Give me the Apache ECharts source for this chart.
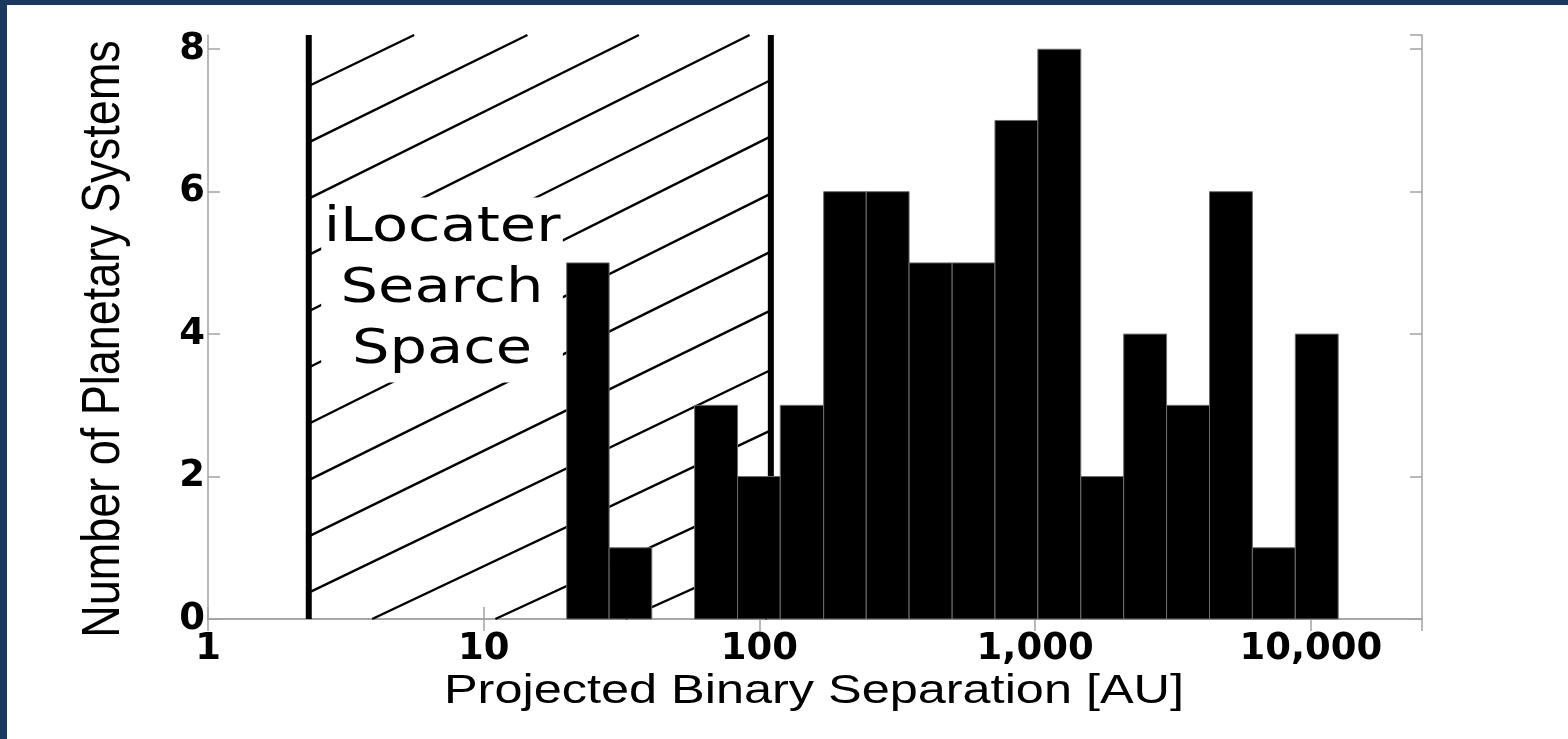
<!DOCTYPE html>
<html>
<head>
<meta charset="utf-8">
<script src="https://cdn.jsdelivr.net/npm/echarts@6/dist/echarts.min.js"></script>
<style>
  html, body { margin: 0; padding: 0; background: #ffffff; overflow: hidden; }
  #chart { position: absolute; left: 0; top: 0; width: 1568px; height: 739px; }
  #bl { position: absolute; left: 0; top: 0; width: 7px; height: 739px; background: #1b385e; }
  #bt { position: absolute; left: 0; top: 0; width: 1568px; height: 5px; background: #1b385e; }
</style>
</head>
<body>
<div id="chart"></div>
<div id="bl"></div>
<div id="bt"></div>
<script>
// ---- data ----
const binEdges = [20, 28.5, 40.7, 58.2, 83.3, 119, 171, 244, 349, 500, 715, 1023, 1464, 2095, 2997, 4289, 6137, 8781, 12565];
const counts = [5, 1, 0, 3, 2, 3, 6, 6, 5, 5, 7, 8, 2, 4, 3, 6, 1, 4];
const searchSpace = [2.32, 110];
const searchLabel = ['iLocater', 'Search', 'Space'];
const xTickValues = [1, 10, 100, 1000, 10000];
const xTickLabels = ['1', '10', '100', '1,000', '10,000'];
const yTickValues = [0, 2, 4, 6, 8];
const yTickLabels = ['0', '2', '4', '6', '8'];
const xTitle = 'Projected Binary Separation [AU]';
const yTitle = 'Number of Planetary Systems';

// ---- build ----
const barData = counts.map((c, i) => [binEdges[i], binEdges[i + 1], c]);
const X_MIN = 1, X_MAX = 25300, Y_MIN = 0, Y_MAX = 8.2;
const STRETCH = 1.23;
const axisGray = '#a3a3a3';

function xLabel(v) {
  for (let i = 0; i < xTickValues.length; i++) {
    if (Math.abs(v - xTickValues[i]) / xTickValues[i] < 1e-6) return xTickLabels[i];
  }
  return '';
}
function yLabel(v) {
  for (let i = 0; i < yTickValues.length; i++) {
    if (Math.abs(v - yTickValues[i]) < 1e-9) return yTickLabels[i];
  }
  return '';
}

const tickFont = { fontFamily: 'DejaVu Sans', fontWeight: 'bold', fontSize: 37, color: '#000' };

const chart = echarts.init(document.getElementById('chart'), null, { renderer: 'canvas' });

const option = {
  animation: false,
  backgroundColor: '#ffffff',
  grid: { left: 208, right: 146, top: 35, bottom: 120, containLabel: false },
  xAxis: [
    {
      type: 'log', logBase: 10, min: X_MIN, max: X_MAX, position: 'bottom',
      axisLine: { show: true, lineStyle: { color: axisGray, width: 1.5 } },
      axisTick: { show: true, inside: true, length: 12, lineStyle: { color: axisGray, width: 1.5 } },
      minorTick: { show: false },
      splitLine: { show: false },
      axisLabel: Object.assign({ margin: 12, formatter: xLabel, showMaxLabel: false }, tickFont)
    },
    {
      type: 'log', logBase: 10, min: X_MIN, max: X_MAX, position: 'top',
      axisLine: { show: true, lineStyle: { color: axisGray, width: 1.5 } },
      axisTick: { show: true, inside: true, length: 12, lineStyle: { color: axisGray, width: 1.5 } },
      splitLine: { show: false },
      axisLabel: { show: false }
    }
  ],
  yAxis: [
    {
      type: 'value', min: Y_MIN, max: Y_MAX, interval: 2, position: 'left',
      axisLine: { show: true, lineStyle: { color: axisGray, width: 1.5 } },
      axisTick: { show: true, inside: true, length: 12, lineStyle: { color: axisGray, width: 1.5 } },
      splitLine: { show: false },
      axisLabel: Object.assign({ margin: 3, formatter: yLabel, showMaxLabel: false }, tickFont)
    },
    {
      type: 'value', min: Y_MIN, max: Y_MAX, interval: 2, position: 'right',
      axisLine: { show: true, lineStyle: { color: axisGray, width: 1.5 } },
      axisTick: { show: true, inside: true, length: 12, lineStyle: { color: axisGray, width: 1.5 } },
      splitLine: { show: false },
      axisLabel: { show: false }
    }
  ],
  graphic: [
    {
      type: 'text', x: 814, y: 692, scaleX: STRETCH,
      style: {
        text: xTitle, font: '41px "Liberation Sans"', fill: '#000',
        align: 'center', verticalAlign: 'middle', textAlign: 'center', textVerticalAlign: 'middle'
      }
    },
    {
      type: 'text', x: 104, y: 339, rotation: Math.PI / 2, scaleY: 1.2,
      style: {
        text: yTitle, font: '45px "Liberation Sans"', fill: '#000',
        align: 'center', verticalAlign: 'middle', textAlign: 'center', textVerticalAlign: 'middle'
      }
    }
  ],
  series: [
    {
      type: 'custom',
      name: 'search',
      xAxisIndex: 0, yAxisIndex: 0,
      z: 2,
      silent: true,
      data: [[searchSpace[0], searchSpace[1]]],
      renderItem: function (params, api) {
        const cs = params.coordSys;
        const top = cs.y, bottom = cs.y + cs.height;
        const xL = api.coord([api.value(0), Y_MIN])[0];
        const xR = api.coord([api.value(1), Y_MIN])[0];
        // hatch: lines joining the two boundary lines, spacing widening slightly downward
        const children = [];
        for (let k = 0; k < 20; k++) {
          const yL = top + 51 + 56.3 * k;
          const yR = top + 45 + 56 * (k - 4) + 0.4 * (k - 4) * (k - 4);
          if (yR > bottom + 5 && yL > bottom) break;
          const slope = (yL - yR) / (xR - xL);
          const xs = Math.max(xL, xL + (yL - bottom) / slope);
          const xe = Math.min(xR, xL + (yL - top) / slope);
          if (xe <= xs) continue;
          children.push({
            type: 'line',
            shape: { x1: xs, y1: yL - slope * (xs - xL), x2: xe, y2: yL - slope * (xe - xL) },
            style: { stroke: '#000', lineWidth: 2.4 }
          });
        }
        const lp = api.coord([7.06, 4.62]);
        children.push({
          type: 'text', x: lp[0], y: lp[1], scaleX: STRETCH,
          style: {
            text: searchLabel.join('\n'), font: '48px "DejaVu Sans"', fill: '#000',
            lineHeight: 61, backgroundColor: '#ffffff', padding: [1, 2, 1, 2],
            align: 'center', verticalAlign: 'middle', textAlign: 'center', textVerticalAlign: 'middle'
          }
        });
        children.push({ type: 'line', shape: { x1: xL, y1: top, x2: xL, y2: bottom }, style: { stroke: '#000', lineWidth: 6 } });
        children.push({ type: 'line', shape: { x1: xR, y1: top, x2: xR, y2: bottom }, style: { stroke: '#000', lineWidth: 6 } });
        return { type: 'group', children: children };
      }
    },
    {
      type: 'custom',
      name: 'histogram',
      xAxisIndex: 0, yAxisIndex: 0,
      z: 3,
      silent: true,
      encode: { x: [0, 1], y: 2 },
      data: barData,
      renderItem: function (params, api) {
        const c = api.value(2);
        if (!(c > 0)) return null;
        const p1 = api.coord([api.value(0), c]);
        const p2 = api.coord([api.value(1), 0]);
        return {
          type: 'rect',
          shape: { x: p1[0], y: p1[1], width: p2[0] - p1[0], height: p2[1] - p1[1] },
          style: { fill: '#000', stroke: '#6e6e6e', lineWidth: 1 }
        };
      }
    }
  ]
};
chart.setOption(option);
</script>
</body>
</html>
